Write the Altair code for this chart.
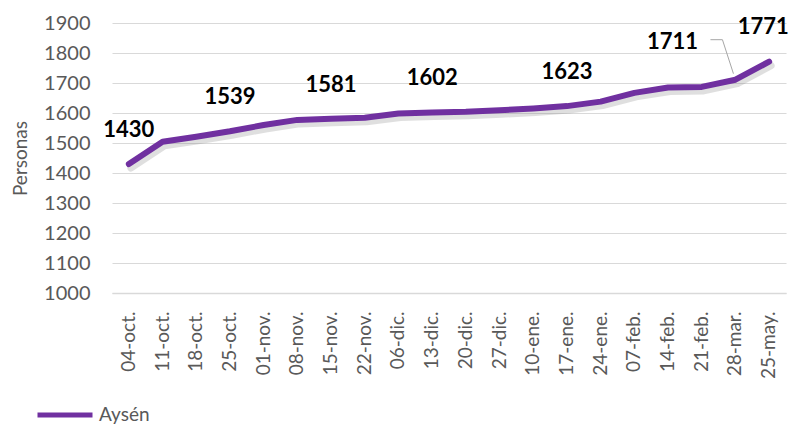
import altair as alt
import pandas as pd

fechas = ["04-oct.", "11-oct.", "18-oct.", "25-oct.", "01-nov.", "08-nov.", "15-nov.",
          "22-nov.", "06-dic.", "13-dic.", "20-dic.", "27-dic.", "10-ene.", "17-ene.",
          "24-ene.", "07-feb.", "14-feb.", "21-feb.", "28-mar.", "25-may."]
personas = [1430, 1504, 1521, 1539, 1560, 1577, 1581, 1584, 1598, 1602, 1604, 1609,
            1615, 1623, 1638, 1667, 1685, 1687, 1711, 1771]
serie = "Aysén"
marcas_y = [1000, 1100, 1200, 1300, 1400, 1500, 1600, 1700, 1800, 1900]
etiquetadas = ["04-oct.", "25-oct.", "15-nov.", "13-dic.", "17-ene."]
etiqueta_guia = ["28-mar."]
etiqueta_final = ["25-may."]

df = pd.DataFrame({"fecha": fechas, "personas": personas, "serie": [serie] * len(fechas)})

FONT = "Lato"
GRAY = "#595959"
PURPLE = "#7030A0"
GRID = "#d9d9d9"

x = alt.X("fecha:N", sort=fechas, title=None,
          axis=alt.Axis(labelAngle=-90, labelFontSize=19, labelColor=GRAY, labelFont=FONT,
                        labelPadding=18, ticks=False, domainColor=GRID, domainWidth=1.5,
                        grid=False))
y = alt.Y("personas:Q", scale=alt.Scale(domain=[1000, 1900], nice=False, zero=False),
          title="Personas",
          axis=alt.Axis(values=marcas_y, format="d", labelFontSize=20, labelColor=GRAY,
                        labelFont=FONT, labelPadding=22, ticks=False, domain=False,
                        gridColor=GRID, gridWidth=1, titleFont=FONT, titleFontSize=19,
                        titleColor=GRAY, titleFontWeight="normal", titlePadding=13))

base = alt.Chart(df)

shadow = base.mark_line(color="#7f7f7f", opacity=0.25, strokeWidth=7, xOffset=2, yOffset=4,
                        strokeCap="round", strokeJoin="round").encode(x=x, y=y)

line = base.mark_line(strokeWidth=6, strokeCap="round", strokeJoin="round").encode(
    x=x, y=y,
    color=alt.Color("serie:N", scale=alt.Scale(domain=[serie], range=[PURPLE]),
                    legend=alt.Legend(title=None, orient="none", legendX=-77, legendY=362,
                                      symbolType="stroke", symbolSize=3025,
                                      symbolStrokeWidth=5, labelFontSize=19,
                                      labelColor=GRAY, labelFont=FONT, padding=0,
                                      labelOffset=4)))

guia1 = base.mark_rule(color="#a6a6a6", strokeWidth=1, xOffset=-2, yOffset=-6,
                       x2Offset=-13, y2Offset=-40).encode(
    x=x, x2="fecha:N", y=y, y2="personas:Q"
).transform_filter(alt.FieldOneOfPredicate(field="fecha", oneOf=etiqueta_guia))

guia2 = base.mark_rule(color="#a6a6a6", strokeWidth=1, xOffset=-13, yOffset=-40,
                       x2Offset=-25, y2Offset=-40).encode(
    x=x, x2="fecha:N", y=y, y2="personas:Q"
).transform_filter(alt.FieldOneOfPredicate(field="fecha", oneOf=etiqueta_guia))

txt_kw = dict(font=FONT, fontSize=22, fontWeight="bold", color="black", baseline="middle")

labels = base.mark_text(dy=-34, **txt_kw).encode(x=x, y=y, text="personas:Q").transform_filter(
    alt.FieldOneOfPredicate(field="fecha", oneOf=etiquetadas))
label_guia = base.mark_text(dx=-63, dy=-38, **txt_kw).encode(x=x, y=y, text="personas:Q").transform_filter(
    alt.FieldOneOfPredicate(field="fecha", oneOf=etiqueta_guia))
label_final = base.mark_text(dx=-6, dy=-35, **txt_kw).encode(x=x, y=y, text="personas:Q").transform_filter(
    alt.FieldOneOfPredicate(field="fecha", oneOf=etiqueta_final))

chart = alt.layer(shadow, line, guia1, guia2, labels, label_guia, label_final).properties(
    width=674, height=270,
    autosize=alt.AutoSizeParams(type="none"),
    padding={"left": 104, "top": 15, "right": 3, "bottom": 131},
    background="white",
).configure_view(stroke=None)

chart.save("out.html", embed_options={"renderer": "svg", "actions": False})
